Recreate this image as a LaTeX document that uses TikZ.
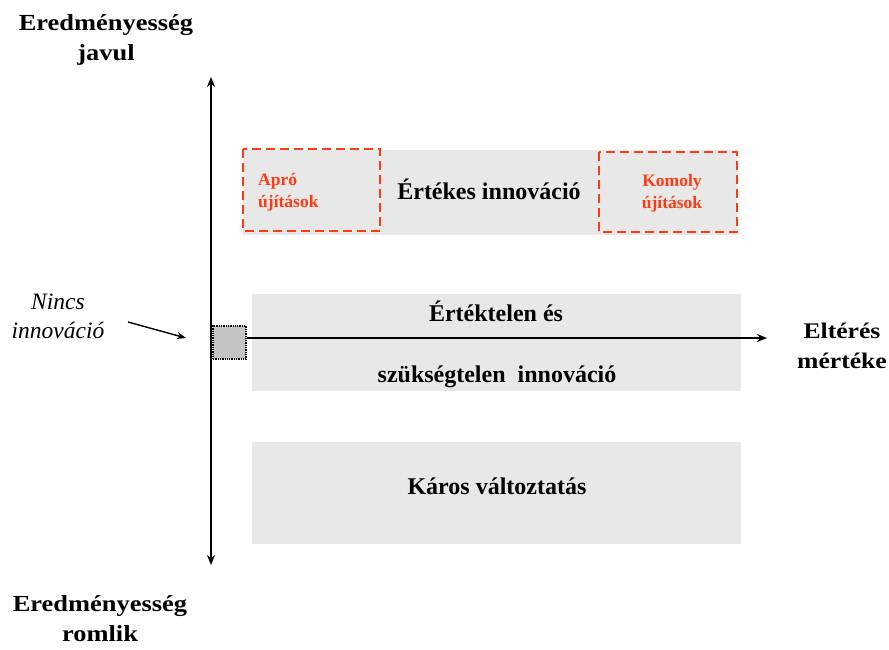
\documentclass[tikz,border=0pt]{standalone}
\usepackage{fontspec}
\setmainfont{Liberation Serif}
\usetikzlibrary{arrows.meta}
\definecolor{panelgrey}{HTML}{E8E8E8}
\definecolor{hotred}{HTML}{FF3B14}
\definecolor{zerogrey}{HTML}{C4C4C4}
% serif text on one or more lines, stretched horizontally by a factor
\newcommand\stretchtext[3][c]{\scalebox{#2}[1]{\begin{tabular}{@{}#1@{}}#3\end{tabular}}}
\begin{document}
\begin{tikzpicture}[x=1pt,y=-1pt,
  panel/.style={fill=panelgrey,draw=none},
  hotbox/.style={draw=hotred,line width=2.6pt,dash pattern=on 9pt off 5pt},
  axis/.style={line width=1.8pt,-{Stealth[length=10pt,width=8pt]}},
  lbl/.style={inner sep=0pt,font=\bfseries\fontsize{#1}{30}\selectfont},
  lbl/.default=24,
  hotlbl/.style={inner sep=0pt,text=hotred,font=\bfseries\fontsize{17.5}{22}\selectfont},
  ilbl/.style={inner sep=0pt,font=\itshape\fontsize{23.5}{29}\selectfont}]
\useasboundingbox (0,0) rectangle (889,650);

% background panels
\fill[panel] (243,150) rectangle (737,235);
\fill[panel] (252,294) rectangle (741,391);
\fill[panel] (252,442) rectangle (741,544);

% dashed highlight boxes
\draw[hotbox] (243,149) rectangle (380,231);
\draw[hotbox] (599,152) rectangle (737,232);

% panel texts
\node[lbl] (ertekes) at (489,193) {\stretchtext{1}{Értékes innováció}};
\node[hotlbl,anchor=west] (apro) at (258,192) {\stretchtext[l]{1}{Apró\\újítások}};
\node[hotlbl] (komoly) at (672,193) {\stretchtext{1}{Komoly\\újítások}};
\node[lbl] (ertektelen) at (496,315) {\stretchtext{1}{Értéktelen és}};
\node[lbl] (szukseg) at (497,376) {\stretchtext{1}{szükségtelen\ \ innováció}};
\node[lbl] (karos) at (497,488) {\stretchtext{1}{Káros változtatás}};

% origin box
\node[draw,densely dotted,line width=1.3pt,fill=zerogrey,minimum width=33pt,minimum height=33pt,inner sep=0pt] (zero) at (229.5,342.5) {};

% axes
\coordinate (ytop) at (211,77);
\coordinate (ybot) at (211,565);
\coordinate (xend) at (767,338);
\draw[axis,{Stealth[length=10pt,width=8pt]}-{Stealth[length=10pt,width=8pt]}] (ybot) -- (ytop);
\draw[axis] (zero.east |- xend) -- (xend);

% axis captions
\node[lbl=23] (javul) at (106,40) {\stretchtext{1.15}{Eredményesség\\javul}};
\node[lbl=23] (romlik) at (100,620) {\stretchtext{1.15}{Eredményesség\\romlik}};
\node[lbl=22.3] (elteres) at (842,347) {\stretchtext{1.15}{Eltérés\\mértéke}};

% no-innovation pointer
\node[ilbl] (nincs) at (58,318) {\stretchtext{1}{Nincs\\innováció}};
\coordinate (ptrstart) at (128,322);
\coordinate (ptrend) at (186,338);
\draw[line width=1.4pt,-{Stealth[length=9pt,width=7pt]}] (ptrstart) -- (ptrend);
\end{tikzpicture}
\end{document}
